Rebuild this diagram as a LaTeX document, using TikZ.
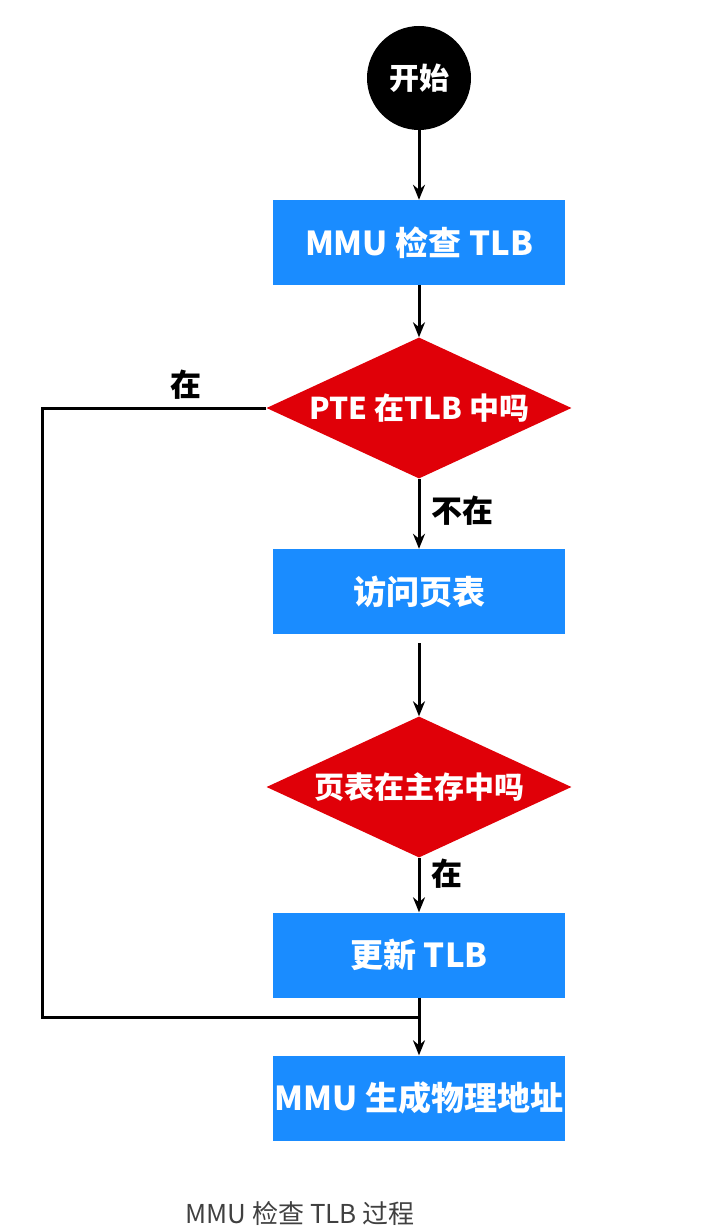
\documentclass[tikz,border=0pt]{standalone}
\usepackage{fontspec}
\setmainfont{Noto Sans CJK SC}
\usetikzlibrary{shapes.geometric,arrows.meta}
\definecolor{bx}{HTML}{1A8CFF}
\definecolor{dm}{HTML}{E00008}
\begin{document}
\begin{tikzpicture}[x=1pt,y=-1pt,
  box/.style={fill=bx,draw=none,minimum width=292pt,minimum height=85pt,text=white,font=\bfseries\fontsize{33}{35}\selectfont,inner sep=0pt},
  dia/.style={diamond,fill=dm,draw=none,minimum width=305pt,minimum height=141pt,inner sep=0pt},
  dt/.style={text=white,font=\bfseries\fontsize{30}{32}\selectfont},
  arr/.style={line width=3pt,-{Stealth[length=15pt,width=12pt]}},
  ln/.style={line width=3pt},
  lab/.style={font=\bfseries\fontsize{31}{33}\selectfont}]
\useasboundingbox (0,0) rectangle (714,1230);
\node[circle,fill=black,minimum size=104pt,text=white,font=\bfseries\fontsize{30}{32}\selectfont,inner sep=0pt] (s) at (419,78) {开始};
\node[box] (b1) at (419,242.5) {MMU 检查 TLB};
\node[dia,shape aspect=2.16] (d1) at (419,408) {};
\node[dt] at (419,408) {PTE 在TLB 中吗};
\node[box] (b2) at (419,591.5) {访问页表};
\node[dia,shape aspect=2.16] (d2) at (419,787) {};
\node[dt] at (419,787) {页表在主存中吗};
\node[box] (b3) at (419,955) {更新 TLB};
\node[box] (b4) at (419,1098) {MMU 生成物理地址};
\coordinate (g) at (419,643);
\coordinate (j) at (419,1017);
\coordinate (c1) at (42,408);
\coordinate (c2) at (42,1017);
\draw[arr] (s) -- (b1);
\draw[arr] (b1) -- (d1.north);
\draw[arr] (d1.south) -- node[lab,right=8pt,pos=0.45]{不在} (b2);
\draw[arr] (g) -- (d2.north);
\draw[arr] (d2.south) -- node[lab,right=8pt,pos=0.3]{在} (b3);
\draw[arr] (b3) -- (b4);
\draw[ln] (d1.west) -- node[lab,above=4pt,pos=0.36]{在} (c1) -- (c2) -- (j);
\node[text=black!75,font=\fontsize{26}{28}\selectfont] (cap) at (300,1214) {MMU 检查 TLB 过程};
\end{tikzpicture}
\end{document}
